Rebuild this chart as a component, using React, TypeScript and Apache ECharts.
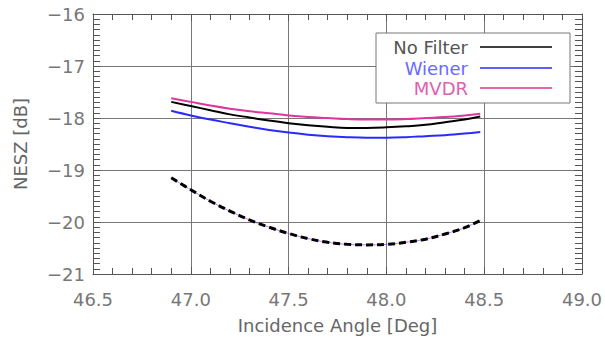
import React, { useEffect, useRef } from "react";
import * as echarts from "echarts";

const angles = [46.9, 47.0, 47.1, 47.2, 47.3, 47.4, 47.5, 47.6, 47.7, 47.8, 47.9, 48.0, 48.1, 48.2, 48.3, 48.4, 48.48];
const noFilter = [-17.69, -17.77, -17.85, -17.93, -17.99, -18.05, -18.10, -18.14, -18.17, -18.19, -18.19, -18.18, -18.16, -18.13, -18.08, -18.03, -17.97];
const wiener = [-17.86, -17.95, -18.03, -18.10, -18.17, -18.23, -18.28, -18.32, -18.35, -18.37, -18.38, -18.38, -18.37, -18.35, -18.33, -18.30, -18.27];
const mvdr = [-17.62, -17.69, -17.76, -17.82, -17.87, -17.91, -17.95, -17.98, -18.00, -18.02, -18.03, -18.03, -18.02, -18.00, -17.98, -17.95, -17.92];
const lowerCurve = [-19.15, -19.38, -19.60, -19.79, -19.96, -20.10, -20.22, -20.32, -20.39, -20.43, -20.44, -20.43, -20.39, -20.33, -20.23, -20.11, -19.97];

const legendNames = ["No Filter", "Wiener", "MVDR"];
const colors = ["#000000", "#2a2aff", "#e0359c"];
const legendTextColors = ["#555555", "#6a6aff", "#e060b0"];

const FONT = "DejaVu Sans";

function pairs(ys: number[]) {
  return angles.map((x, i) => [x, ys[i]]);
}

export default function App() {
  const ref = useRef<HTMLDivElement>(null);
  useEffect(() => {
    if (!ref.current) return;
    const chart = echarts.init(ref.current, null, { renderer: "svg" });
    const axisLine = { show: true, lineStyle: { color: "#555", width: 1 } };
    const grid = { left: 93, top: 14, right: 22, bottom: 64 };
    const fmtY = (v: number) => (v < 0 ? "\u2212" + Math.abs(v) : String(v));
    const solid = (name: string, data: number[], color: string) => ({
      type: "line",
      name,
      data: pairs(data),
      smooth: 0.4,
      showSymbol: false,
      lineStyle: { color, width: 2 },
      z: 5,
    });
    const dashed = (name: string, data: number[], color: string, offset: number, width: number, opacity: number, z: number) => ({
      type: "line",
      name,
      data: pairs(data),
      smooth: 0.4,
      showSymbol: false,
      lineStyle: { color, width, opacity, type: [7, 4], dashOffset: offset },
      z,
    });
    const lx1 = 480, lx2 = 552;
    const rows = [47, 68, 88];
    chart.setOption({
      animation: false,
      backgroundColor: "#fff",
      grid,
      xAxis: [
        {
          type: "value",
          min: 46.5,
          max: 49,
          interval: 0.5,
          position: "bottom",
          name: "Incidence Angle [Deg]",
          nameLocation: "middle",
          nameGap: 42,
          nameTextStyle: { fontFamily: FONT, fontSize: 18, color: "#666" },
          axisLine,
          axisTick: { show: true, inside: true, length: 7, lineStyle: { color: "#555" } },
          minorTick: { show: true, splitNumber: 5, length: 6, lineStyle: { color: "#555" } },
          axisLabel: {
            fontFamily: FONT,
            fontSize: 18,
            color: "#777",
            margin: 16,
            formatter: (v: number) => v.toFixed(1),
          },
          splitLine: { show: true, lineStyle: { color: "#777", width: 1 } },
        },
        {
          type: "value",
          min: 46.5,
          max: 49,
          interval: 0.5,
          position: "top",
          axisLine,
          axisTick: { show: true, inside: true, length: 7, lineStyle: { color: "#555" } },
          minorTick: { show: true, splitNumber: 5, length: 6, lineStyle: { color: "#555" } },
          axisLabel: { show: false },
          splitLine: { show: false },
        },
      ],
      yAxis: [
        {
          type: "value",
          min: -21,
          max: -16,
          interval: 1,
          position: "left",
          name: "NESZ [dB]",
          nameLocation: "middle",
          nameGap: 64,
          nameTextStyle: { fontFamily: FONT, fontSize: 18, color: "#666" },
          axisLine,
          axisTick: { show: true, inside: true, length: 8, lineStyle: { color: "#555" } },
          minorTick: { show: true, splitNumber: 10, length: 7, lineStyle: { color: "#555" } },
          axisLabel: { fontFamily: FONT, fontSize: 18, color: "#777", margin: 8, formatter: fmtY },
          splitLine: { show: true, lineStyle: { color: "#777", width: 1 } },
        },
        {
          type: "value",
          min: -21,
          max: -16,
          interval: 1,
          position: "right",
          axisLine,
          axisTick: { show: true, inside: true, length: 8, lineStyle: { color: "#555" } },
          minorTick: { show: true, splitNumber: 10, length: 7, lineStyle: { color: "#555" } },
          axisLabel: { show: false },
          splitLine: { show: false },
        },
      ],
      series: [
        solid("No Filter", noFilter, colors[0]),
        solid("Wiener", wiener, colors[1]),
        solid("MVDR", mvdr, colors[2]),
        dashed("MVDR (lower)", lowerCurve, colors[2], 2, 1, 0.6, 3),
        dashed("Wiener (lower)", lowerCurve, colors[1], 9, 1, 0.6, 4),
        dashed("No Filter (lower)", lowerCurve, colors[0], 0, 3, 1, 5),
      ],
      graphic: [
        {
          type: "rect",
          shape: { x: 376, y: 33, width: 194, height: 70 },
          style: { fill: "#fff", stroke: "#777", lineWidth: 1 },
          z: 100,
        },
        ...legendNames.flatMap((n, i) => [
          {
            type: "text",
            x: 468,
            y: rows[i],
            z: 101,
            style: {
              text: n,
              fontFamily: FONT,
              fontSize: 18,
              fill: legendTextColors[i],
              align: "right",
              verticalAlign: "middle",
            },
          },
          {
            type: "line",
            z: 101,
            shape: { x1: lx1, y1: rows[i], x2: lx2, y2: rows[i] },
            style: { stroke: colors[i], lineWidth: 1.5 },
          },
        ]),
      ],
    });
    return () => chart.dispose();
  }, []);
  return (
    <div
      ref={ref}
      style={{ position: "absolute", left: 0, top: 0, width: 605, height: 339 }}
    />
  );
}
